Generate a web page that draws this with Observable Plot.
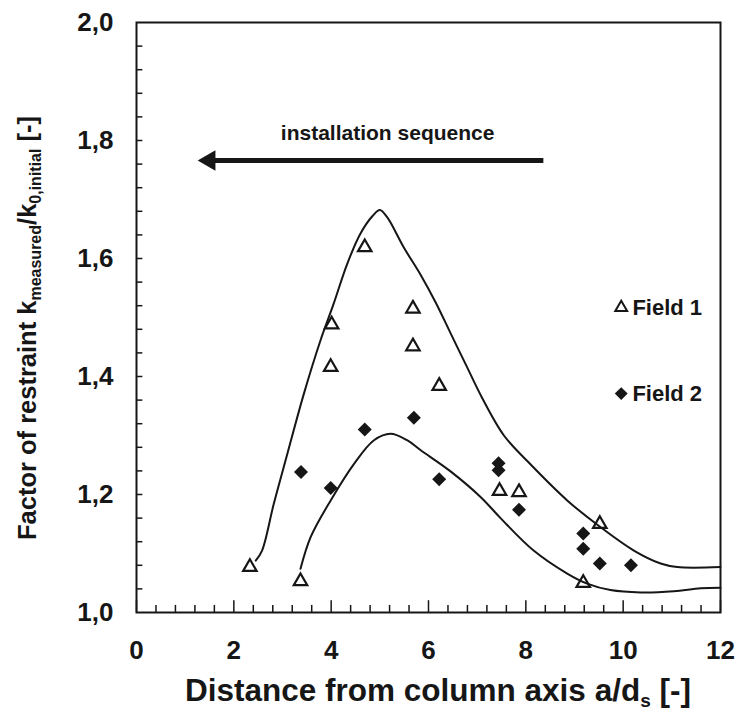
<!DOCTYPE html>
<html>
<head>
<meta charset="utf-8">
<script src="https://cdn.jsdelivr.net/npm/d3@7"></script>
<script src="https://cdn.jsdelivr.net/npm/@observablehq/plot@0.6"></script>
<style>
  html, body { margin: 0; padding: 0; background: #fff; }
  #chart svg { display: block; }
</style>
</head>
<body>
<div id="chart"></div>
<script>
// ---- Data ----
// Field 1 (open triangles)
const field1X = [2.33, 3.37, 3.99, 4.01, 4.69, 5.68, 5.68, 6.22, 7.46, 7.86, 9.52, 9.18];
const field1Y = [1.077, 1.053, 1.416, 1.488, 1.619, 1.515, 1.451, 1.384, 1.206, 1.204, 1.150, 1.050];
// Field 2 (filled diamonds)
const field2X = [3.38, 3.99, 4.69, 5.70, 6.22, 7.44, 7.44, 7.86, 9.18, 9.18, 9.52, 10.16];
const field2Y = [1.238, 1.211, 1.310, 1.330, 1.226, 1.253, 1.241, 1.174, 1.134, 1.108, 1.083, 1.080];
// Upper envelope curve
const upperX = [2.45, 2.58, 2.82, 3.10, 3.44, 3.78, 4.05, 4.33, 4.60, 4.85, 5.00, 5.15, 5.49, 5.84, 6.15, 6.45, 6.78, 7.10, 7.55, 8.05, 8.85, 9.53, 10.22, 10.77, 11.11, 12.0];
const upperY = [1.088, 1.105, 1.184, 1.269, 1.371, 1.461, 1.523, 1.591, 1.642, 1.672, 1.682, 1.670, 1.619, 1.572, 1.525, 1.474, 1.418, 1.364, 1.300, 1.255, 1.190, 1.145, 1.105, 1.083, 1.077, 1.077];
// Lower envelope curve
const lowerX = [3.37, 3.58, 3.99, 4.47, 4.88, 5.22, 5.56, 5.84, 6.44, 7.08, 7.48, 8.16, 8.85, 9.26, 9.74, 10.36, 11.04, 11.59, 12.0];
const lowerY = [1.074, 1.128, 1.190, 1.252, 1.292, 1.303, 1.292, 1.275, 1.240, 1.195, 1.160, 1.105, 1.066, 1.049, 1.038, 1.034, 1.036, 1.041, 1.042];

// Axis ticks
const xTicks = [0, 2, 4, 6, 8, 10, 12];
const xMinorTicks = [0.4, 0.8, 1.2, 1.6, 2.4, 2.8, 3.2, 3.6, 4.4, 4.8, 5.2, 5.6, 6.4, 6.8, 7.2, 7.6, 8.4, 8.8, 9.2, 9.6, 10.4, 10.8, 11.2, 11.6];
const yTicks = [1.0, 1.2, 1.4, 1.6, 1.8, 2.0];
const yMinorTicks = [1.04, 1.08, 1.12, 1.16, 1.2, 1.24, 1.28, 1.32, 1.36, 1.4, 1.44, 1.48, 1.52, 1.56, 1.6, 1.64, 1.68, 1.72, 1.76, 1.8, 1.84, 1.88, 1.92, 1.96];

// Annotations
const arrowFromX = 8.36, arrowToX = 1.50, arrowY = 1.766;
const annotationLabel = "installation sequence";
const annotationX = 5.16, annotationY = 1.812;
const legendLabels = ["Field 1", "Field 2"];
const legendX = 9.96, legendTextX = 10.19;
const legendY = [1.517, 1.371];

const field1 = field1X.map((x, i) => ({x, y: field1Y[i]}));
const field2 = field2X.map((x, i) => ({x, y: field2Y[i]}));
const upper = upperX.map((x, i) => ({x, y: upperY[i]}));
const lower = lowerX.map((x, i) => ({x, y: lowerY[i]}));

const ink = "#161616";
const fmtY = d => d.toFixed(1).replace(".", ",");

const chart = Plot.plot({
  width: 741,
  height: 713,
  marginLeft: 136,
  marginRight: 21,
  marginTop: 22,
  marginBottom: 101,
  x: {domain: [0, 12]},
  y: {domain: [1, 2]},
  style: {
    fontFamily: "'Liberation Sans', Arial, Helvetica, sans-serif",
    fontWeight: "bold",
    color: ink,
    background: "#fff"
  },
  marks: [
    // inward ticks
    Plot.ruleX(xMinorTicks, {y1: 1, y2: 1.012, stroke: ink, strokeWidth: 1.5}),
    Plot.ruleX(xTicks, {y1: 1, y2: 1.02, stroke: ink, strokeWidth: 1.5}),
    Plot.ruleY(yMinorTicks, {x1: 0, x2: 0.13, stroke: ink, strokeWidth: 1.5}),
    Plot.axisX(xTicks, {tickSize: 0, tickPadding: 28, fontSize: 26, label: null, tickFormat: d => String(d)}),
    Plot.axisY(yTicks, {tickSize: 0, tickPadding: 23, fontSize: 26, label: null, tickFormat: fmtY}),
    // envelope curves
    Plot.line(upper, {x: "x", y: "y", curve: "catmull-rom", stroke: ink, strokeWidth: 2}),
    Plot.line(lower, {x: "x", y: "y", curve: "catmull-rom", stroke: ink, strokeWidth: 2}),
    // data
    Plot.dot(field2, {x: "x", y: "y", symbol: "diamond2", r: 6.3, fill: ink, stroke: "none"}),
    Plot.dot(field1, {x: "x", y: "y", symbol: "triangle", r: 5, fill: "none", stroke: ink, strokeWidth: 2.2}),
    // installation sequence arrow
    Plot.link([annotationLabel], {x1: () => arrowFromX, x2: () => arrowToX, y1: () => arrowY, y2: () => arrowY, stroke: ink, strokeWidth: 5}),
    Plot.dot([annotationLabel], {x: () => arrowToX, y: () => arrowY, symbol: "triangle", rotate: -90, r: 7.6, fill: ink, stroke: "none"}),
    Plot.text([annotationLabel], {x: () => annotationX, y: () => annotationY, text: d => d, fontSize: 21, fill: ink}),
    // legend
    Plot.dot([legendLabels[0]], {x: () => legendX, y: () => legendY[0], symbol: "triangle", r: 4.4, fill: "none", stroke: ink, strokeWidth: 2}),
    Plot.dot([legendLabels[1]], {x: () => legendX, y: () => legendY[1], symbol: "diamond2", r: 5.8, fill: ink}),
    Plot.text(legendLabels, {x: () => legendTextX, y: (d, i) => legendY[i], text: d => d, textAnchor: "start", fontSize: 22, fill: ink}),
    Plot.frame({stroke: ink, strokeWidth: 2})
  ]
});

document.getElementById("chart").appendChild(chart);

// Axis titles with subscripts
const svg = d3.select(chart);
const xt = svg.append("text")
  .attr("x", 438).attr("y", 701)
  .attr("text-anchor", "middle")
  .attr("font-size", 31.5).attr("font-weight", "bold").attr("fill", ink)
  .attr("font-family", "'Liberation Sans', Arial, sans-serif");
xt.append("tspan").text("Distance from column axis a/d");
xt.append("tspan").attr("font-size", 19).attr("dy", 6).text("s");
xt.append("tspan").attr("dy", -6).text(" [-]");

const yt = svg.append("text")
  .attr("transform", "translate(36,328) rotate(-90)")
  .attr("text-anchor", "middle")
  .attr("font-size", 25.5).attr("font-weight", "bold").attr("fill", ink)
  .attr("font-family", "'Liberation Sans', Arial, sans-serif");
yt.append("tspan").text("Factor of restraint k");
yt.append("tspan").attr("font-size", 16).attr("dy", 5).text("measured");
yt.append("tspan").attr("dy", -5).text("/k");
yt.append("tspan").attr("font-size", 16).attr("dy", 5).text("0,initial");
yt.append("tspan").attr("dy", -5).text(" [-]");
</script>
</body>
</html>
